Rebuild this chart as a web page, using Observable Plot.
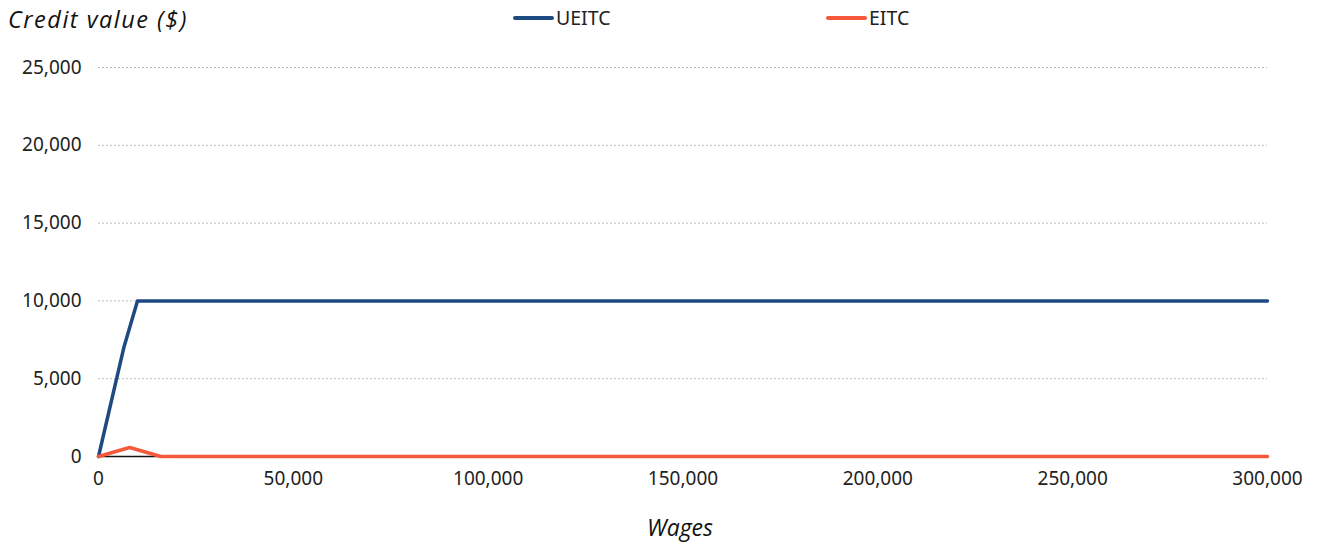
<!DOCTYPE html>
<html>
<head>
<meta charset="utf-8">
<script src="https://cdn.jsdelivr.net/npm/d3@7"></script>
<script src="https://cdn.jsdelivr.net/npm/@observablehq/plot@0.6"></script>
<style>
  html, body { margin: 0; padding: 0; background: #fff; }
  body { width: 1317px; height: 548px; overflow: hidden; font-family: "Noto Sans", sans-serif; }
  #header { position: relative; height: 48px; }
  #ytitle { position: absolute; left: 8px; top: 4px; font-family: "Open Sans", "Noto Sans", sans-serif; font-size: 23.5px; letter-spacing: 1.5px; font-style: italic; color: #111; line-height: 30px; }
  .leg { position: absolute; top: 4px; font-size: 19.5px; color: #222; display: flex; align-items: center; line-height: 28px; }
  .leg span.sw { display: inline-block; width: 41px; height: 4px; margin-right: 2px; border-radius: 2px; }
  #chart svg { display: block; }
</style>
</head>
<body>
<div id="header">
  <div id="ytitle">Credit value ($)</div>
  <div class="leg" style="left:513px"><span class="sw" style="background:#1d4a80"></span>UEITC</div>
  <div class="leg" style="left:826px"><span class="sw" style="background:#f5583b"></span>EITC</div>
</div>
<div id="chart"></div>
<script>
const seriesNames = ["UEITC", "EITC"];
const seriesColors = ["#1d4a80", "#f5583b"];
const ueitcWages = [0, 6500, 10000, 300000];
const ueitcValues = [0, 7000, 10000, 10000];
const eitcWages = [0, 8000, 16000, 300000];
const eitcValues = [0, 580, 0, 0];
const xTicks = [0, 50000, 100000, 150000, 200000, 250000, 300000];
const yTicks = [0, 5000, 10000, 15000, 20000, 25000];

const data = [
  ...ueitcWages.map((w, i) => ({series: "UEITC", wage: w, value: ueitcValues[i]})),
  ...eitcWages.map((w, i) => ({series: "EITC", wage: w, value: eitcValues[i]}))
];
const fmt = d3.format(",");

const chart = Plot.plot({
  width: 1317,
  height: 500,
  marginLeft: 98,
  marginRight: 50,
  marginTop: 19,
  marginBottom: 92,
  style: {fontFamily: "'Noto Sans', sans-serif", fontSize: "19px", color: "#222"},
  x: {domain: [0, 300000], ticks: xTicks, tickFormat: fmt, label: null},
  y: {domain: [0, 25000], ticks: yTicks, tickFormat: fmt, label: null},
  color: {domain: seriesNames, range: seriesColors},
  marks: [
    Plot.gridY(yTicks, {stroke: "#bbb", strokeOpacity: 1, strokeDasharray: "2,2", strokeWidth: 1}),
    Plot.axisY(yTicks, {tickSize: 0, tickPadding: 17, tickFormat: fmt, fontSize: 19, label: null}),
    Plot.axisX(xTicks, {tickSize: 0, tickPadding: 15, tickFormat: fmt, fontSize: 19, label: null}),
    Plot.text(["Wages"], {frameAnchor: "bottom", dy: 79, dx: -3, fontFamily: "'Open Sans', 'Noto Sans', sans-serif", fontSize: 23, letterSpacing: "1px", fontStyle: "italic", fill: "#111", text: d => d}),
    Plot.ruleY([0], {stroke: "#111", strokeWidth: 1.5}),
    Plot.line(data, {x: "wage", y: "value", z: "series", stroke: "series", strokeWidth: 3.5})
  ]
});
document.getElementById("chart").appendChild(chart);
</script>
</body>
</html>
